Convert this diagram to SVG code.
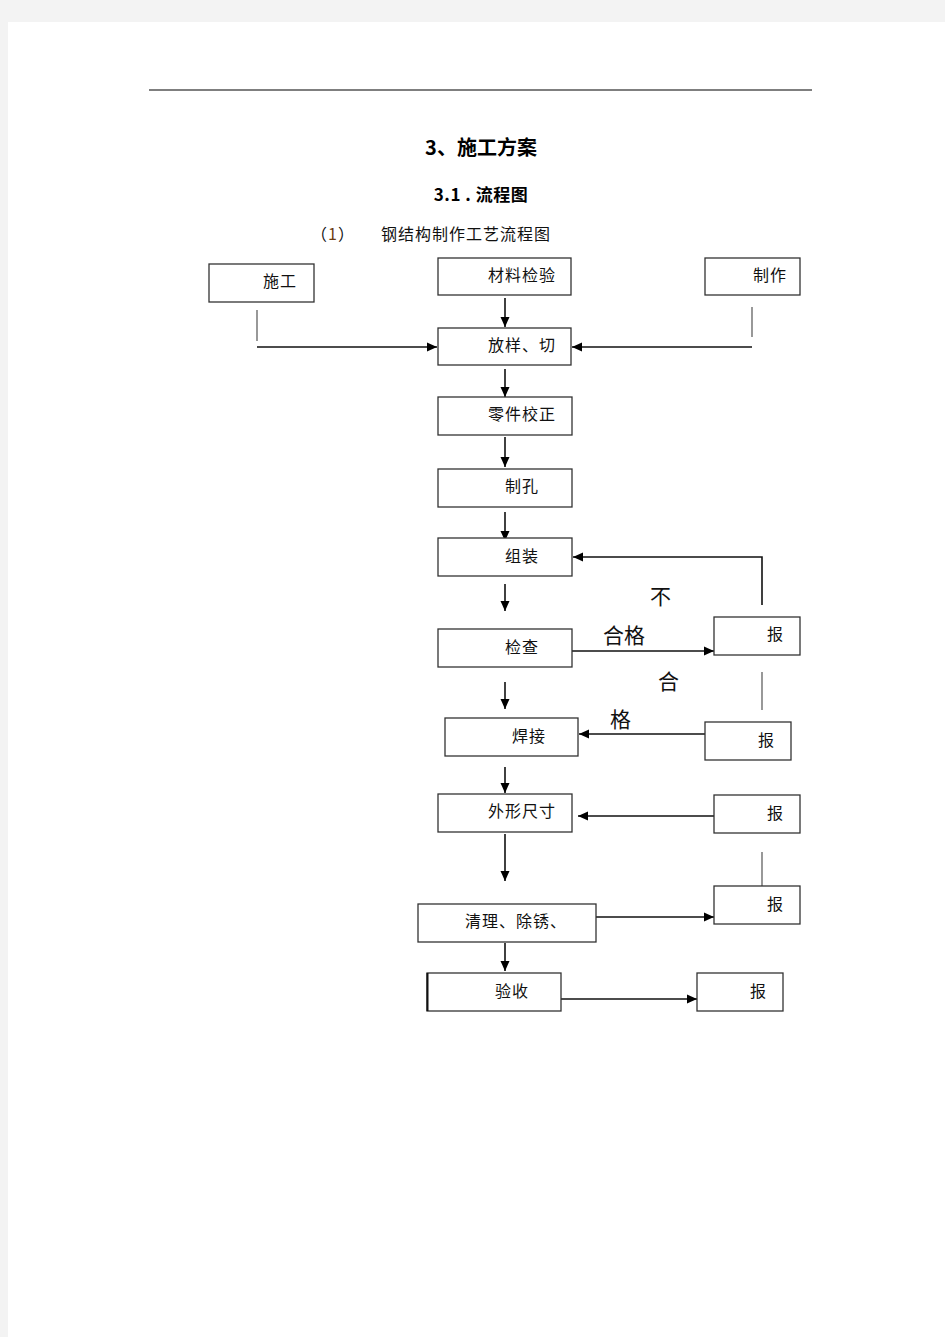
<svg xmlns="http://www.w3.org/2000/svg" width="945" height="1337" viewBox="0 0 945 1337">
<defs>
<style>
.t{font-family:"Noto Sans CJK SC","Noto Sans",sans-serif;font-size:16px;letter-spacing:1px;fill:#111}
.h{font-family:"Noto Sans CJK SC","Noto Sans",sans-serif;font-weight:bold;fill:#000}
.lb{font-family:"Noto Sans CJK SC","Noto Sans",sans-serif;font-size:21px;fill:#111}
.box{fill:#fff;stroke:#333;stroke-width:1.3}
.c{fill:none;stroke:#111;stroke-width:1.6}
.p{fill:none;stroke:#444;stroke-width:1.1}
</style>
<marker id="ah" viewBox="0 0 10 10" refX="10" refY="5" markerWidth="11" markerHeight="10" markerUnits="userSpaceOnUse" orient="auto">
<path d="M0,0.5 L10,5 L0,9.5 z" fill="#000"/>
</marker>
</defs>
<rect x="0" y="0" width="945" height="1337" fill="#f3f3f3"/>
<rect x="8" y="22" width="937" height="1315" fill="#fff"/>
<line x1="149" y1="90" x2="812" y2="90" stroke="#000" stroke-width="1.2"/>
<text class="h" x="481" y="155" font-size="20" text-anchor="middle">3、施工方案</text>
<text class="h" x="481" y="201" font-size="17" text-anchor="middle" letter-spacing="0.5">3.1 . 流程图</text>
<text class="t" x="311" y="240">（<tspan fill="#6a3a10">1</tspan>）</text>
<text class="t" x="381" y="240">钢结构制作工艺流程图</text>

<g id="connectors">
<line class="c" x1="505" y1="298" x2="505" y2="327" marker-end="url(#ah)"/>
<line class="p" x1="257" y1="310" x2="257" y2="341"/>
<line class="c" x1="257" y1="347" x2="437" y2="347" marker-end="url(#ah)"/>
<line class="p" x1="752" y1="307" x2="752" y2="337"/>
<line class="c" x1="752" y1="347" x2="572" y2="347" marker-end="url(#ah)"/>
<line class="c" x1="505" y1="369" x2="505" y2="397" marker-end="url(#ah)"/>
<line class="c" x1="505" y1="437" x2="505" y2="467" marker-end="url(#ah)"/>
<line class="c" x1="505" y1="512" x2="505" y2="541" marker-end="url(#ah)"/>
<line class="c" x1="505" y1="584" x2="505" y2="611" marker-end="url(#ah)"/>
<line class="c" x1="505" y1="682" x2="505" y2="709" marker-end="url(#ah)"/>
<line class="c" x1="505" y1="767" x2="505" y2="793" marker-end="url(#ah)"/>
<line class="c" x1="505" y1="834" x2="505" y2="881" marker-end="url(#ah)"/>
<line class="c" x1="505" y1="943" x2="505" y2="971" marker-end="url(#ah)"/>
<polyline class="c" points="762,605 762,557 573,557" marker-end="url(#ah)" stroke-width="1.3"/>
<line class="c" x1="572" y1="651" x2="714" y2="651" marker-end="url(#ah)"/>
<line class="p" x1="762" y1="672" x2="762" y2="710"/>
<line class="c" x1="705" y1="734" x2="579" y2="734" marker-end="url(#ah)"/>
<line class="c" x1="714" y1="816" x2="578" y2="816" marker-end="url(#ah)"/>
<line class="p" x1="762" y1="852" x2="762" y2="886"/>
<line class="c" x1="596" y1="917" x2="714" y2="917" marker-end="url(#ah)"/>
<line class="c" x1="561" y1="999" x2="697" y2="999" marker-end="url(#ah)"/>
</g>

<g id="labels">
<text class="lb" x="650" y="604">不</text>
<text class="lb" x="603" y="643">合格</text>
<text class="lb" x="658" y="689">合</text>
<text class="lb" x="610" y="727">格</text>
</g>

<g id="n-shigong"><rect class="box" x="209" y="264" width="105" height="38"/><text class="t" x="263" y="287">施工</text></g>
<g id="n-cailiao"><rect class="box" x="438" y="258" width="133" height="37"/><text class="t" x="488" y="281">材料检验</text></g>
<g id="n-zhizuo"><rect class="box" x="705" y="258" width="95" height="37"/><text class="t" x="753" y="281">制作</text></g>
<g id="n-fangyang"><rect class="box" x="438" y="328" width="133" height="37"/><text class="t" x="488" y="351">放样、切</text></g>
<g id="n-lingjian"><rect class="box" x="438" y="397" width="134" height="38"/><text class="t" x="488" y="420">零件校正</text></g>
<g id="n-zhikong"><rect class="box" x="438" y="469" width="134" height="38"/><text class="t" x="505" y="492">制孔</text></g>
<g id="n-zuzhuang"><rect class="box" x="438" y="538" width="134" height="38"/><text class="t" x="505" y="562">组装</text></g>
<g id="n-jiancha"><rect class="box" x="438" y="629" width="134" height="38"/><text class="t" x="505" y="653">检查</text></g>
<g id="n-bao1"><rect class="box" x="714" y="617" width="86" height="38"/><text class="t" x="767" y="640">报</text></g>
<g id="n-hanjie"><rect class="box" x="445" y="718" width="133" height="38"/><text class="t" x="512" y="742">焊接</text></g>
<g id="n-bao2"><rect class="box" x="705" y="722" width="86" height="38"/><text class="t" x="758" y="746">报</text></g>
<g id="n-waixing"><rect class="box" x="438" y="794" width="134" height="38" stroke-width="2"/><text class="t" x="488" y="817">外形尺寸</text></g>
<g id="n-bao3"><rect class="box" x="714" y="795" width="86" height="38"/><text class="t" x="767" y="819">报</text></g>
<g id="n-bao4"><rect class="box" x="714" y="886" width="86" height="38"/><text class="t" x="767" y="910">报</text></g>
<g id="n-qingli"><rect class="box" x="418" y="904" width="178" height="38"/><text class="t" x="465" y="927">清理、除锈、</text></g>
<g id="n-yanshou"><rect class="box" x="427" y="973" width="134" height="38"/><line x1="427.5" y1="973" x2="427.5" y2="1011" stroke="#111" stroke-width="2"/><text class="t" x="495" y="997">验收</text></g>
<g id="n-bao5"><rect class="box" x="697" y="973" width="86" height="38"/><text class="t" x="750" y="997">报</text></g>
</svg>
